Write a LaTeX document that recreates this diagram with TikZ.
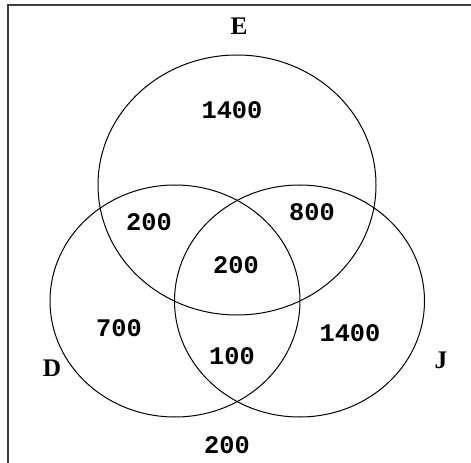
\documentclass[tikz,border=0pt]{standalone}
\usepackage{fontspec}
\usepackage{tikz}
\newfontfamily\vennnum{Liberation Mono}
\newfontfamily\vennset{Liberation Serif}
\tikzset{
  setring/.style={draw=black, line width=0.75pt},
  countlabel/.style={font=\fontsize{19}{19}\selectfont\vennnum\bfseries, inner sep=0pt},
  setlabel/.style={font=\fontsize{19}{19}\selectfont\vennset\bfseries, inner sep=0pt},
  framerule/.style={draw=black!75, line width=1.3pt}
}

\begin{document}
\begin{tikzpicture}[x=0.75pt,y=-0.75pt]
  \useasboundingbox (0,0) rectangle (471,463);
  % frame
  \draw[framerule] (471,5) -- (8,5) -- (8,463);
  % the three sets
  \draw[setring] (237,185) ellipse [x radius=139, y radius=130];
  \draw[setring] (175,301) ellipse [x radius=125, y radius=116];
  \draw[setring] (299.5,301) ellipse [x radius=125, y radius=116];
  \node[setlabel] (labE) at (239,26) {E};
  \node[setlabel] (labD) at (52,368) {D};
  \node[setlabel] (labJ) at (441,360) {J};
  % region counts
  \node[countlabel] (onlyE) at (232,110) {1400};
  \node[countlabel] (DE) at (149,222) {200};
  \node[countlabel] (EJ) at (312,212) {800};
  \node[countlabel] (DEJ) at (236,265) {200};
  \node[countlabel] (onlyD) at (119,328) {700};
  \node[countlabel] (onlyJ) at (350,333) {1400};
  \node[countlabel] (DJ) at (232,356) {100};
  \node[countlabel] (none) at (227,445) {200};
\end{tikzpicture}
\end{document}
